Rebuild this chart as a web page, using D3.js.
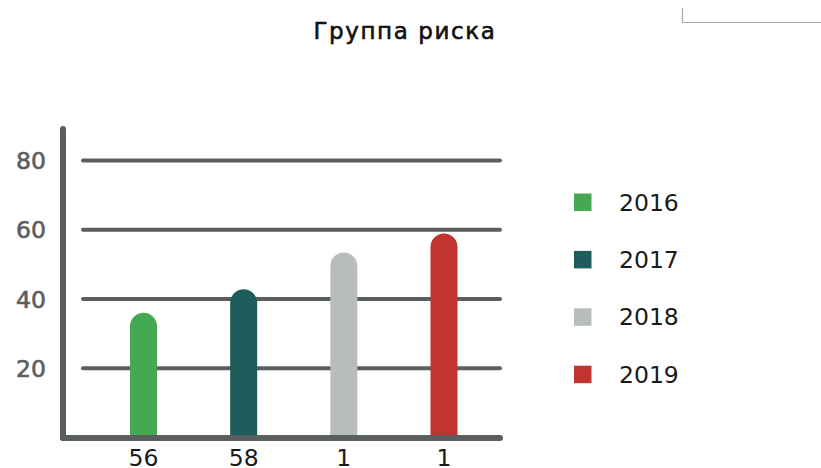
<!DOCTYPE html>
<html>
<head>
<meta charset="utf-8">
<script src="https://cdn.jsdelivr.net/npm/d3@7"></script>
<style>
  html, body { margin: 0; padding: 0; background: #fff; }
  svg { display: block; font-family: "DejaVu Sans", sans-serif; }
</style>
</head>
<body>
<svg id="chart" width="821" height="468"></svg>
<script>
const title = "Группа риска";
const categories = ["56", "58", "1", "1"];
const seriesNames = ["2016", "2017", "2018", "2019"];
const values = [36, 42.8, 53.4, 58.9];
const colors = ["#45a852", "#1f5c5c", "#b9bcbc", "#c1342f"];
const yTicks = [20, 40, 60, 80];

const svg = d3.select("#chart");
const axisColor = "#5a5e5e";

const y = d3.scaleLinear().domain([0, 80]).range([437.5, 160.5]);
const x = d3.scalePoint().domain(d3.range(categories.length)).range([143.5, 444]);
const barW = 27;

// title
svg.append("text")
  .attr("x", 405).attr("y", 38.5)
  .attr("text-anchor", "middle")
  .attr("font-size", 23)
  .attr("letter-spacing", 1.6)
  .attr("fill", "#111")
  .attr("stroke", "#111")
  .attr("stroke-width", 0.6)
  .text(title);

// top-right bracket
svg.append("path")
  .attr("d", "M682.5,8 V22.5 H821")
  .attr("fill", "none")
  .attr("stroke", "#aaaaaa")
  .attr("stroke-width", 1.2);

// gridlines
svg.append("g").selectAll("line").data(yTicks).join("line")
  .attr("x1", 83).attr("x2", 500)
  .attr("y1", d => y(d)).attr("y2", d => y(d))
  .attr("stroke", axisColor)
  .attr("stroke-width", 4)
  .attr("stroke-linecap", "round");

// y tick labels
svg.append("g").selectAll("text").data(yTicks).join("text")
  .attr("x", 46).attr("y", d => y(d) + 8.5)
  .attr("text-anchor", "end")
  .attr("font-size", 23.5)
  .attr("fill", axisColor)
  .attr("stroke", axisColor)
  .attr("stroke-width", 0.6)
  .text(d => d);

// bars with rounded tops
svg.append("g").selectAll("path").data(values).join("path")
  .attr("fill", (d, i) => colors[i])
  .attr("d", (d, i) => {
    const cx = x(i), r = barW / 2;
    const top = y(d), bottom = y(0);
    return `M${cx - r},${bottom} V${top + r} A${r},${r} 0 0 1 ${cx + r},${top + r} V${bottom} Z`;
  });

// axes
svg.append("line")
  .attr("x1", 63).attr("x2", 63).attr("y1", 129).attr("y2", 438)
  .attr("stroke", axisColor).attr("stroke-width", 6).attr("stroke-linecap", "round");
svg.append("line")
  .attr("x1", 63).attr("x2", 500).attr("y1", 438).attr("y2", 438)
  .attr("stroke", axisColor).attr("stroke-width", 6).attr("stroke-linecap", "round");

// x labels
svg.append("g").selectAll("text").data(categories).join("text")
  .attr("x", (d, i) => x(i)).attr("y", 465.5)
  .attr("text-anchor", "middle")
  .attr("font-size", 23.5)
  .attr("fill", "#1a1a1a")
  .text(d => d);

// legend
const legend = svg.append("g").selectAll("g").data(seriesNames).join("g")
  .attr("transform", (d, i) => `translate(574, ${202 + i * 57.4})`);
legend.append("rect")
  .attr("x", 0).attr("y", -8.5).attr("width", 17.5).attr("height", 17.5)
  .attr("fill", (d, i) => colors[i]);
legend.append("text")
  .attr("x", 45).attr("y", 8.5)
  .attr("font-size", 23.5)
  .attr("fill", "#1a1a1a")
  .text(d => d);
</script>
</body>
</html>
